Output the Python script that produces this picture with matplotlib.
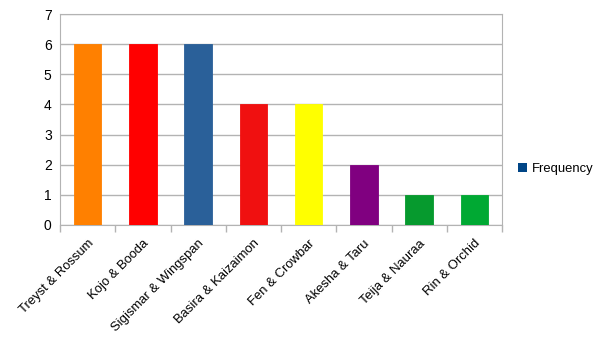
import numpy as np
import matplotlib.pyplot as plt

plt.rcParams['font.family'] = ['Liberation Sans', 'DejaVu Sans']

pairs = ["Treyst & Rossum", "Kojo & Booda", "Sigismar & Wingspan", "Basira & Kaizaimon",
         "Fen & Crowbar", "Akesha & Taru", "Teija & Nauraa", "Rin & Orchid"]
frequency = [6, 6, 6, 4, 4, 2, 1, 1]
colors = ["#ff8000", "#ff0000", "#2a6099", "#f01010", "#ffff00", "#800080", "#069a2e", "#00a933"]

fig = plt.figure(figsize=(6.05, 3.4), dpi=100)
ax = fig.add_axes([60 / 605, 1 - 225 / 340, 442 / 605, 211 / 340])

x = np.arange(len(pairs))
ax.bar(x, frequency, width=0.5, color=colors, edgecolor=colors, linewidth=0.6, zorder=3)

ax.set_xlim(-0.5, len(pairs) - 0.5)
ax.set_ylim(0, 7)
ax.set_yticks(range(8))
ax.yaxis.grid(True, color="#b3b3b3", linewidth=1, zorder=0)
ax.tick_params(axis="y", length=0, labelsize=10, pad=6)

ax.set_xticks(x)
ax.set_xticklabels(pairs, rotation=45, ha="right", rotation_mode="anchor", fontsize=9.4)
ax.tick_params(axis="x", length=0, pad=9)
ax.set_xticks(np.arange(-0.5, len(pairs)), minor=True)
ax.tick_params(axis="x", which="minor", length=5, color="#b3b3b3", width=1)

for s in ax.spines.values():
    s.set_color("#b3b3b3")

ax.bar([0], [0], color="#004586", label="Frequency")
ax.legend(loc="center left", bbox_to_anchor=(506 / 605, 1 - 169 / 340), bbox_transform=fig.transFigure,
          frameon=False, fontsize=9.4, handlelength=0.7, handleheight=0.7, handletextpad=0.4)

fig.savefig("out.png", dpi=100)
